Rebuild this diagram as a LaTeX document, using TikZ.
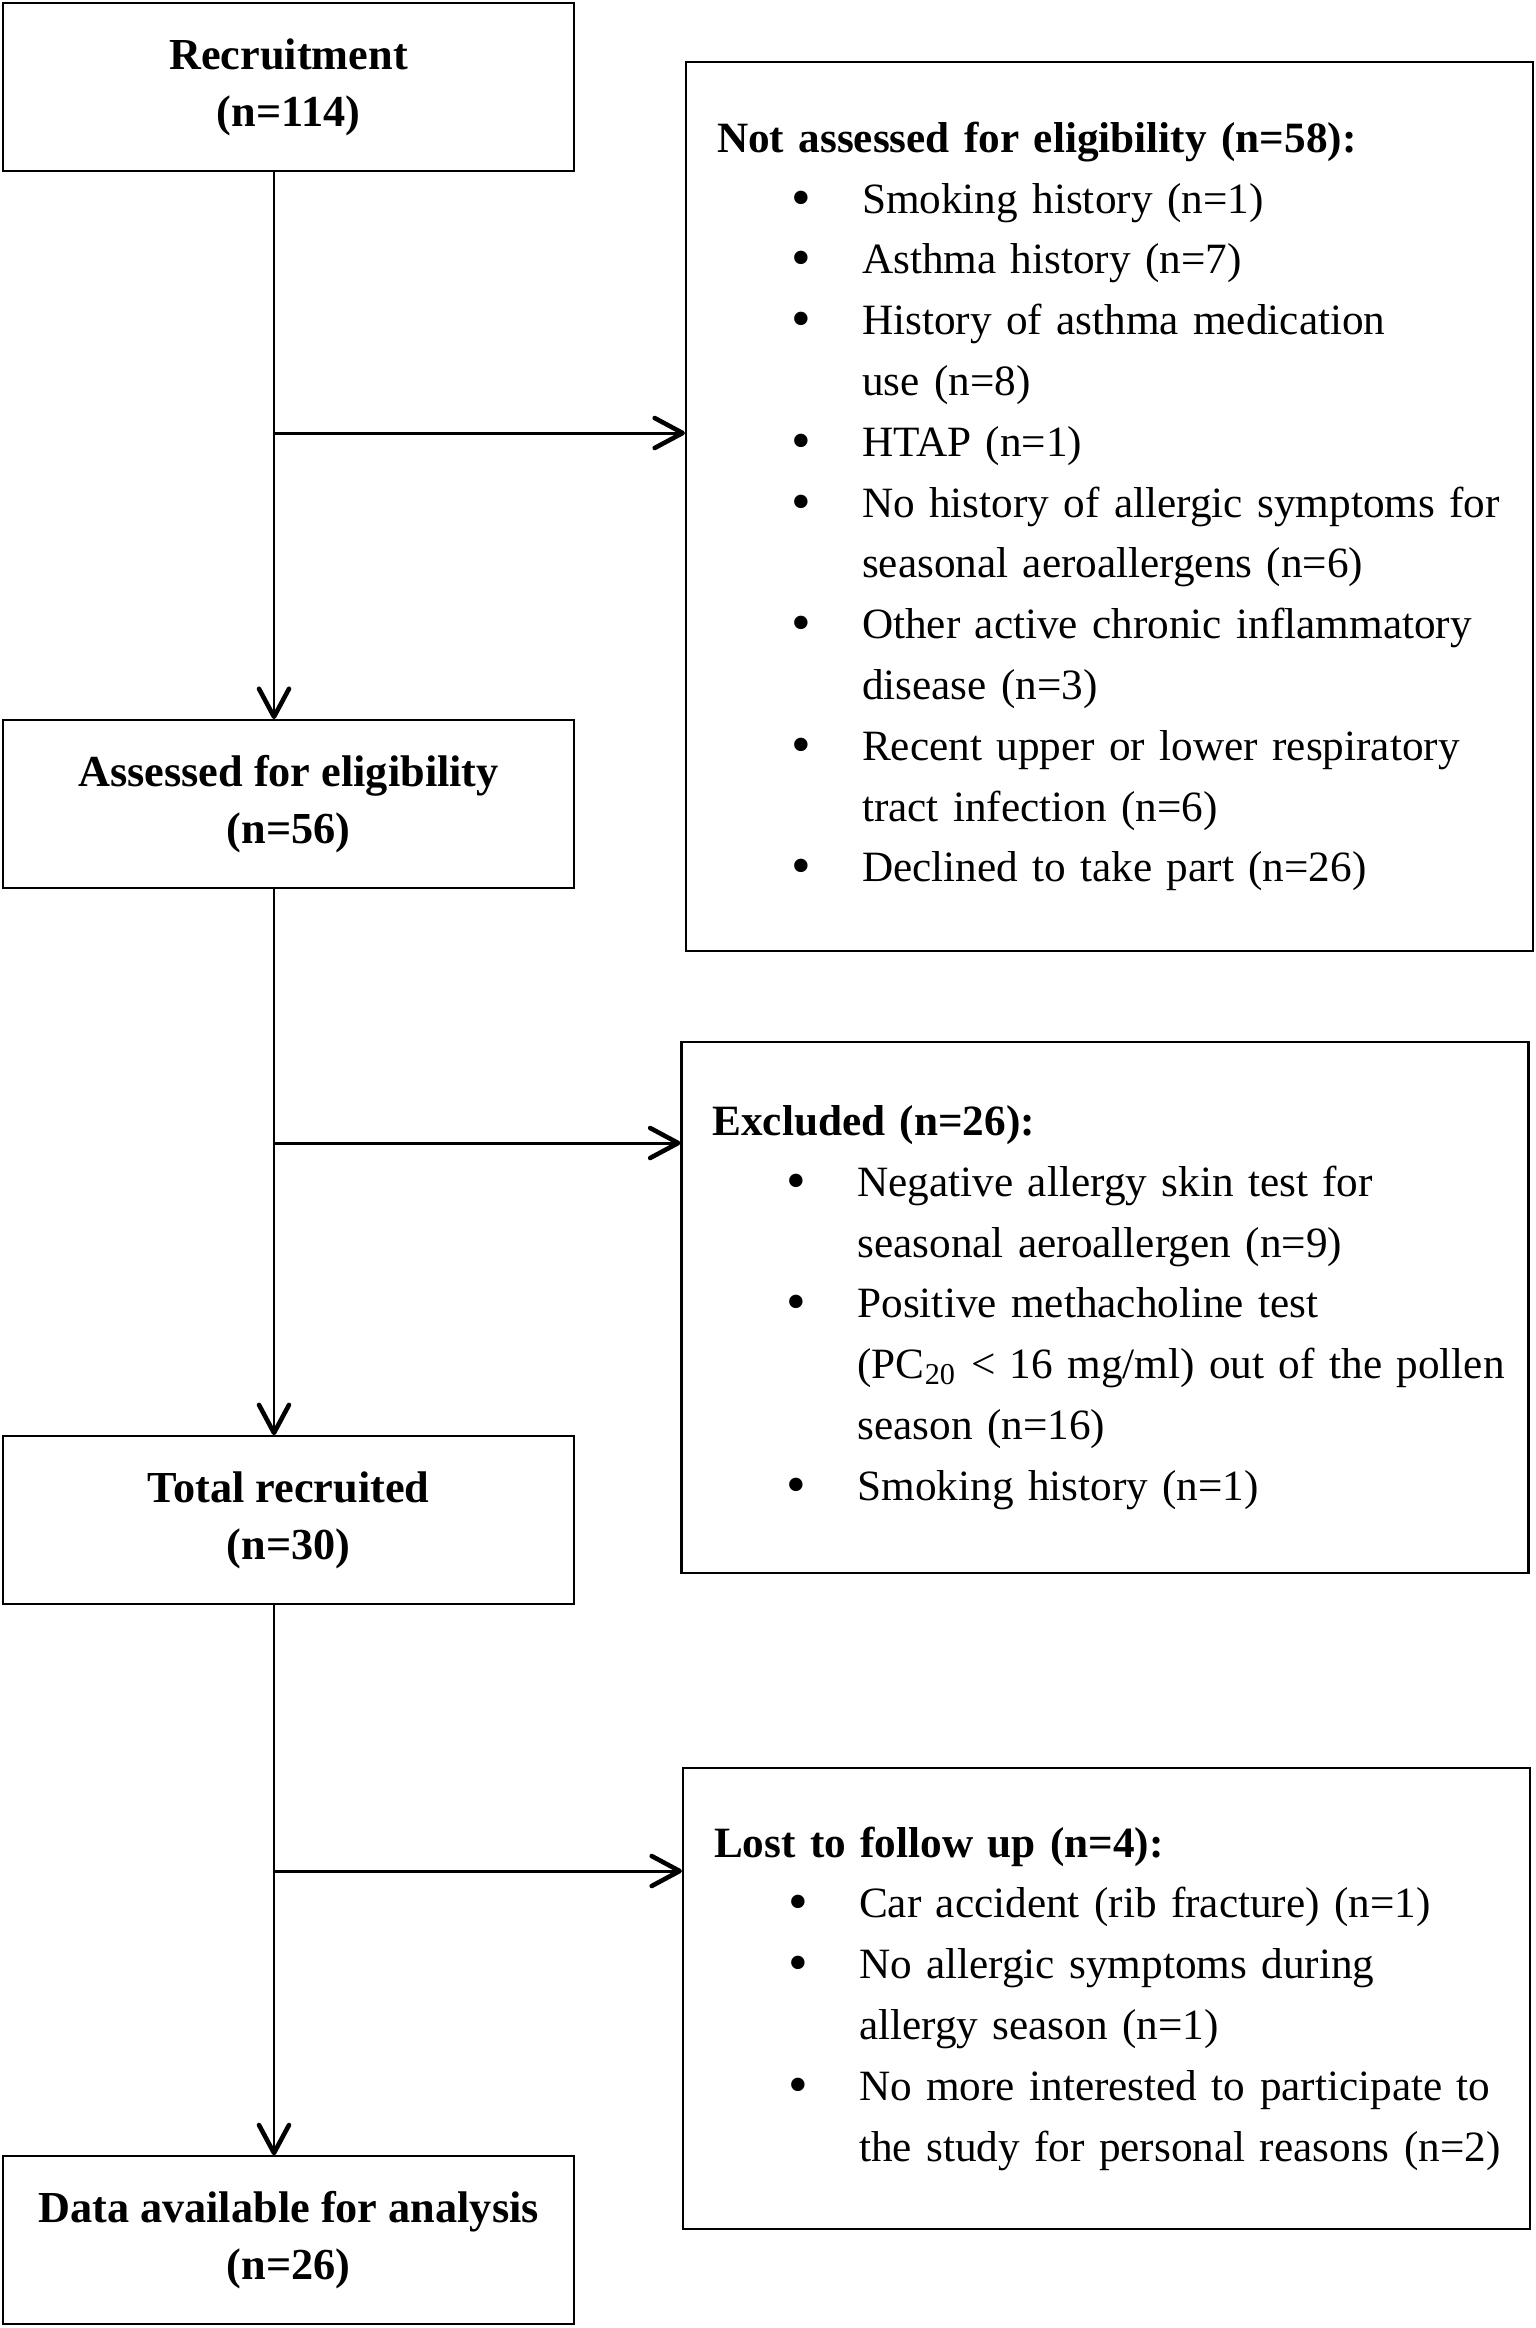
\documentclass[tikz,border=0pt]{standalone}
\usepackage{graphicx}
\usepackage{fontspec}
\setmainfont{Liberation Serif}
\usetikzlibrary{positioning,arrows.meta}

\newcommand{\itm}[1]{\hspace*{0.74cm}\makebox[0.71cm][l]{\raisebox{-0.07em}{\scalebox{1.3}{\textbullet}}}\mbox{#1}}
\newcommand{\cnt}[1]{\hspace*{1.45cm}\mbox{#1}}

\tikzset{
  stage/.style={draw, line width=0.6pt, minimum width=5.71cm, minimum height=1.68cm,
    align=center, font=\fontsize{12.6}{16.2}\selectfont\bfseries},
  reason/.style={draw, line width=0.6pt, text width=7.85cm, inner xsep=0.31cm,
    align=left, font=\fontsize{12.3}{17.3}\selectfont},
  flow/.style={line width=0.85pt,
    -{Straight Barb[length=2.8mm,width=3mm,line width=1.3pt,round]}}
}

\begin{document}
\begin{tikzpicture}
  \useasboundingbox (0,0) rectangle (15.36,-23.28);

  % main stages
  \node[stage] (rec) at (2.885,-0.87) {Recruitment\\(n=114)};
  \node[stage, below=5.47cm of rec] (ass) {Assessed for eligibility\\(n=56)};
  \node[stage, below=5.46cm of ass] (tot) {Total recruited\\(n=30)};
  \node[stage, below=5.50cm of tot] (dat) {Data available for analysis\\(n=26)};

  % reasons
  \node[reason, minimum height=8.89cm] (notass) at (11.095,-5.065) {
    \textbf{Not assessed for eligibility (n=58):}\\
    \itm{Smoking history (n=1)}\\
    \itm{Asthma history (n=7)}\\
    \itm{History of asthma medication}\\
    \cnt{use (n=8)}\\
    \itm{HTAP (n=1)}\\
    \itm{No history of allergic symptoms for}\\
    \cnt{seasonal aeroallergens (n=6)}\\
    \itm{Other active chronic inflammatory}\\
    \cnt{disease (n=3)}\\
    \itm{Recent upper or lower respiratory}\\
    \cnt{tract infection (n=6)}\\
    \itm{Declined to take part (n=26)}};
  \node[reason, minimum height=5.31cm] (excl) at (11.05,-13.075) {
    \textbf{Excluded (n=26):}\\
    \itm{Negative allergy skin test for}\\
    \cnt{seasonal aeroallergen (n=9)}\\
    \itm{Positive methacholine test}\\
    \cnt{(PC\textsubscript{20} < 16 mg/ml) out of the pollen}\\
    \cnt{season (n=16)}\\
    \itm{Smoking history (n=1)}};
  \node[reason, minimum height=4.61cm] (lost) at (11.065,-19.985) {
    \textbf{Lost to follow up (n=4):}\\
    \itm{Car accident (rib fracture) (n=1)}\\
    \itm{No allergic symptoms during}\\
    \cnt{allergy season (n=1)}\\
    \itm{No more interested to participate to}\\
    \cnt{the study for personal reasons (n=2)}};

  % spine and branch points
  \coordinate (spine) at (2.74,0);
  \coordinate (b1) at (2.74,-4.33);
  \coordinate (b2) at (2.74,-11.43);
  \coordinate (b3) at (2.74,-18.71);

  \draw[flow] (rec.south -| spine) -- (ass.north -| spine);
  \draw[flow] (ass.south -| spine) -- (tot.north -| spine);
  \draw[flow] (tot.south -| spine) -- (dat.north -| spine);
  \draw[flow] (b1) -- (b1 -| notass.west);
  \draw[flow] (b2) -- (b2 -| excl.west);
  \draw[flow] (b3) -- (b3 -| lost.west);
\end{tikzpicture}
\end{document}
